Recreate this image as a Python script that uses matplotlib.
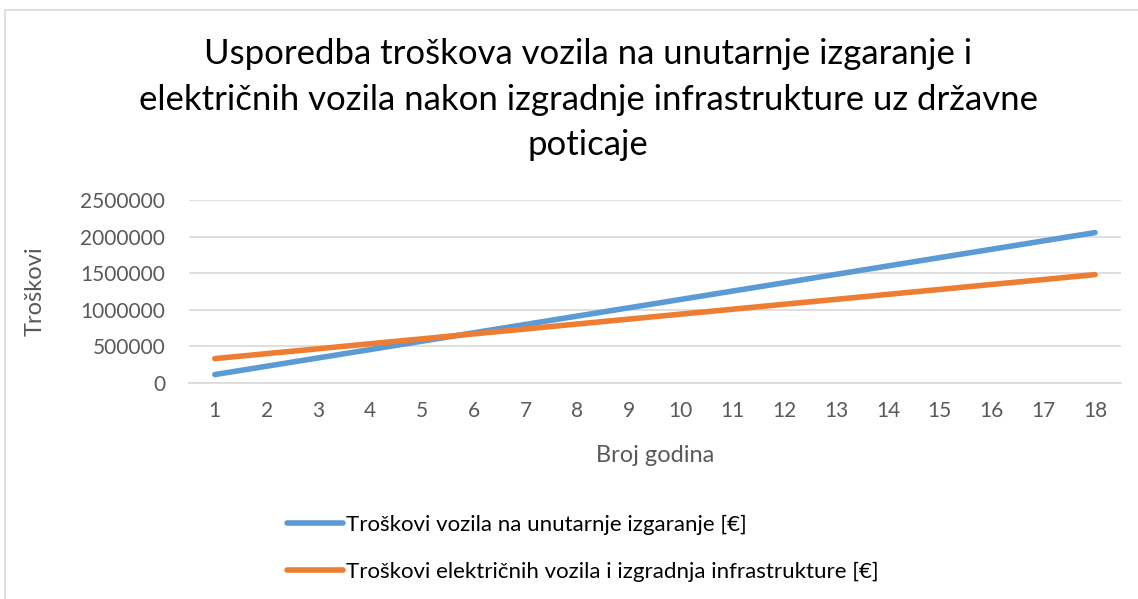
import numpy as np
import matplotlib.pyplot as plt
from matplotlib.patches import Rectangle
from matplotlib.ticker import FuncFormatter

plt.rcParams['font.family'] = ['Lato', 'DejaVu Sans']

# data
godine = list(range(1, 19))
troskovi_ice = [115000, 229000, 343000, 457000, 571000, 686000, 800000, 914000, 1028000,
                1142000, 1256000, 1370000, 1485000, 1599000, 1713000, 1827000, 1941000, 2055000]
troskovi_ev = [333000, 401000, 468000, 536000, 603000, 671000, 738000, 806000, 873000,
               941000, 1008000, 1076000, 1143000, 1211000, 1278000, 1346000, 1413000, 1481000]

naslov = ("Usporedba troškova vozila na unutarnje izgaranje i\n"
          "električnih vozila nakon izgradnje infrastrukture uz državne\n"
          "poticaje")
label_ice = "Troškovi vozila na unutarnje izgaranje [€]"
label_ev = "Troškovi električnih vozila i izgradnja infrastrukture [€]"

fig = plt.figure(figsize=(11.38, 5.99), dpi=100)

# chart area border
fig.patches.append(Rectangle((5 / 1138, -0.1), 1.1, 1 - 10 / 599 + 0.1, transform=fig.transFigure,
                             fill=False, edgecolor='#d9d9d9', linewidth=1.2))

ax = fig.add_axes([0.166, 0.3606, 0.819, 0.3055])

ax.plot(godine, troskovi_ice, color='#5b9bd5', linewidth=4, solid_capstyle='round', label=label_ice)
ax.plot(godine, troskovi_ev, color='#ed7d31', linewidth=4, solid_capstyle='round', label=label_ev)

ax.set_xlim(0.5, 18.5)
ax.set_ylim(0, 2500000)
ax.set_yticks(np.arange(0, 2500001, 500000))
ax.yaxis.set_major_formatter(FuncFormatter(lambda v, p: f"{int(v)}"))
ax.set_xticks(godine)
ax.yaxis.grid(True, color='#d9d9d9', linewidth=1.2)
ax.set_axisbelow(True)
for s in ['top', 'right', 'left']:
    ax.spines[s].set_visible(False)
ax.spines['bottom'].set_color('#d9d9d9')
ax.spines['bottom'].set_linewidth(1.2)
ax.tick_params(length=0, labelsize=15, labelcolor='#595959')
ax.tick_params(axis='x', pad=13)
ax.tick_params(axis='y', pad=17)

ax.set_xlabel("Broj godina", fontsize=17, color='#595959', labelpad=17)
ax.set_ylabel("Troškovi", fontsize=17, color='#595959', labelpad=25)

fig.text(0.517, 0.937, naslov, ha='center', va='top', fontsize=25, color='black',
         linespacing=1.53)

leg = fig.legend(loc='upper left', bbox_to_anchor=(287 / 1138, 1 - 515 / 599), frameon=False,
                 fontsize=16, handlelength=2.5, handletextpad=0.15, labelspacing=1.2,
                 borderaxespad=0, borderpad=0)

plt.savefig('out.png', dpi=100)
